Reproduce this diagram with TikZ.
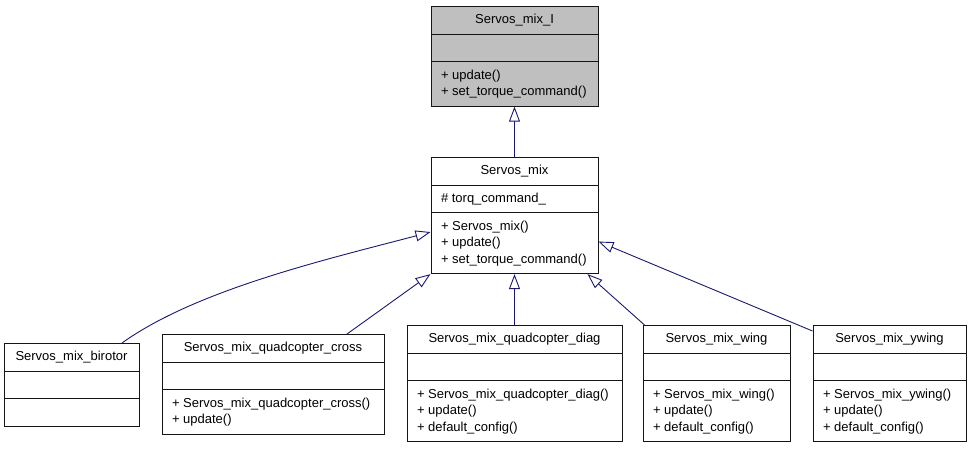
\documentclass[tikz,border=0pt]{standalone}
\usepackage{fontspec}
\setmainfont{Liberation Sans}
\usetikzlibrary{arrows.meta,shapes.multipart}
\definecolor{navy}{RGB}{25,25,112}
\definecolor{shade}{RGB}{191,191,191}
\definecolor{ink}{RGB}{20,20,20}
\tikzset{
  >={Triangle[open,length=15pt,width=11pt]},
  cls/.style={rectangle split,rectangle split parts=3,draw=ink,fill=#1,line width=1pt,
    font=\fontsize{13}{16.5}\selectfont,inner xsep=10pt,inner ysep=5.1pt,
    rectangle split part align={center,left,left},anchor=north},
  cls/.default=white,
  inherit/.style={->,draw=navy,line width=0.9pt},
}
\newcommand{\mlist}[1]{\begin{tabular}{@{}l@{}}#1\end{tabular}}

\begin{document}
\begin{tikzpicture}[x=1pt,y=-1pt]
  \useasboundingbox (0,0) rectangle (971,451);
  % base classes
  \node[cls=shade,minimum width=167pt] (mixI) at (514.5,6) {\strut Servos\_mix\_I
    \nodepart{two}\strut
    \nodepart{three}\mlist{+ update()\\+ set\_torque\_command()}};
  \node[cls,minimum width=167pt] (mix) at (514.5,157) {\strut Servos\_mix
    \nodepart{two}\strut\#~torq\_command\_
    \nodepart{three}\mlist{+ Servos\_mix()\\+ update()\\+ set\_torque\_command()}};
  % derived classes
  \node[cls,minimum width=135pt] (birotor) at (71.5,343) {\strut Servos\_mix\_birotor
    \nodepart{two}\strut
    \nodepart{three}\strut};
  \node[cls,minimum width=222pt] (cross) at (273,334) {\strut Servos\_mix\_quadcopter\_cross
    \nodepart{two}\strut
    \nodepart{three}\mlist{+ Servos\_mix\_quadcopter\_cross()\\+ update()}};
  \node[cls,minimum width=215pt] (diag) at (514.5,325) {\strut Servos\_mix\_quadcopter\_diag
    \nodepart{two}\strut
    \nodepart{three}\mlist{+ Servos\_mix\_quadcopter\_diag()\\+ update()\\+ default\_config()}};
  \node[cls,minimum width=147pt] (wing) at (716.5,325) {\strut Servos\_mix\_wing
    \nodepart{two}\strut
    \nodepart{three}\mlist{+ Servos\_mix\_wing()\\+ update()\\+ default\_config()}};
  \node[cls,minimum width=153pt] (ywing) at (889.5,325) {\strut Servos\_mix\_ywing
    \nodepart{two}\strut
    \nodepart{three}\mlist{+ Servos\_mix\_ywing()\\+ update()\\+ default\_config()}};
  % inheritance
  \draw[inherit] (mix) -- (mixI);
  \draw[inherit] ([xshift=50.5pt]birotor.north) .. controls (196,290) and (324,260) .. ([yshift=-16.5pt]mix.west);
  \draw[inherit] ([xshift=74pt]cross.north) -- (mix.south west);
  \draw[inherit] (diag) -- (mix);
  \draw[inherit] ([xshift=2pt]wing.north west) -- ([xshift=-11pt]mix.south east);
  \draw[inherit] ([yshift=-6pt]ywing.north west) -- ([yshift=-26pt]mix.east);
\end{tikzpicture}
\end{document}
